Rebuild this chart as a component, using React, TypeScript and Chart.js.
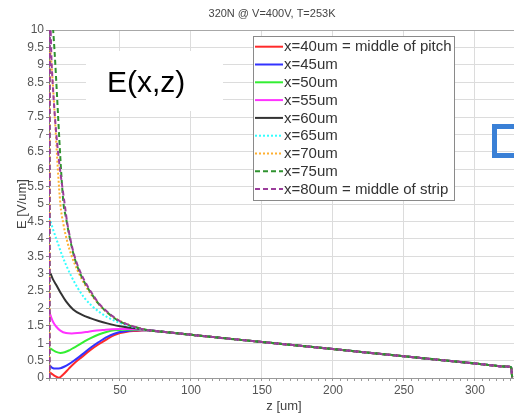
import React, { useEffect, useRef } from "react";
import { Chart, registerables } from "chart.js";

Chart.register(...registerables);

// ---- data ----
const TITLE = "320N @ V=400V, T=253K";
const X_TITLE = "z [um]";
const Y_TITLE = "E [V/um]";
const ANNOT = "E(x,z)";

// common tail shared by all curves (z >= 70 um)
const TAIL_Z = [70, 80, 100, 150, 200, 250, 300, 324, 325.5, 326.2];
const TAIL_E = [1.37, 1.33, 1.24, 1.035, 0.83, 0.625, 0.42, 0.325, 0.31, 0.02];

const LABELS = [
  "x=40um = middle of pitch",
  "x=45um",
  "x=50um",
  "x=55um",
  "x=60um",
  "x=65um",
  "x=70um",
  "x=75um",
  "x=80um = middle of strip",
];

const Z40 = [0, 2, 4, 7, 10, 14, 18, 23, 29, 35, 41, 46, 50, 55, 60, 64];
const E40 = [0.18, 0.12, 0.06, 0.01, 0.1, 0.27, 0.43, 0.6, 0.8, 0.97, 1.12, 1.23, 1.29, 1.33, 1.35, 1.36];

const Z45 = [0, 2, 5, 8, 11, 14, 17, 21, 25, 29, 35, 41, 46, 50, 55, 60, 64];
const E45 = [0.38, 0.3, 0.27, 0.28, 0.33, 0.4, 0.48, 0.6, 0.73, 0.86, 1.03, 1.18, 1.27, 1.32, 1.35, 1.37, 1.37];

const Z50 = [0, 2, 5, 8, 11, 14, 17, 21, 25, 29, 35, 41, 46, 50, 55, 60, 64];
const E50 = [0.86, 0.82, 0.75, 0.72, 0.74, 0.79, 0.86, 0.95, 1.05, 1.14, 1.25, 1.33, 1.37, 1.38, 1.39, 1.39, 1.38];

const Z55 = [0, 1.5, 3, 5, 8, 12, 16, 20, 26, 32, 38, 44, 50, 56, 62];
const E55 = [1.92, 1.75, 1.6, 1.48, 1.36, 1.29, 1.28, 1.29, 1.32, 1.36, 1.38, 1.4, 1.41, 1.41, 1.4];

const Z60 = [0, 1, 3, 5, 8, 12, 17, 23, 29, 35, 41, 46, 50, 56, 62];
const E60 = [3.05, 3.0, 2.82, 2.68, 2.46, 2.2, 1.97, 1.82, 1.72, 1.64, 1.57, 1.52, 1.49, 1.45, 1.42];

const Z65 = [0, 1, 3, 6, 9, 12, 16, 20, 25, 30, 36, 41, 46, 50, 56, 62];
const E65 = [4.6, 4.5, 4.25, 3.9, 3.55, 3.25, 2.9, 2.6, 2.3, 2.08, 1.88, 1.75, 1.65, 1.58, 1.5, 1.43];

const Z70 = [0.3, 0.5, 1.2, 8, 10, 13, 16, 20, 25, 30, 36, 41, 46, 50, 56, 62];
const E70 = [0, 9.5, 9.3, 5.0, 4.45, 3.9, 3.5, 3.1, 2.7, 2.38, 2.08, 1.88, 1.73, 1.64, 1.53, 1.45];

const Z75 = [0.3, 0.5, 3, 10, 12, 15, 18, 22, 26, 30, 35, 40, 45, 50, 56, 62];
const E75 = [0, 11, 9.95, 5.1, 4.6, 3.95, 3.45, 3.0, 2.68, 2.42, 2.13, 1.92, 1.75, 1.62, 1.52, 1.45];

const Z80 = [0.45, 0.55, 2, 12, 15, 18, 22, 26, 30, 35, 40, 45, 50, 56, 62];
const E80 = [0, 10.5, 8.9, 4.7, 4.0, 3.5, 3.05, 2.72, 2.45, 2.15, 1.94, 1.77, 1.63, 1.53, 1.45];

const SERIES_Z = [Z40, Z45, Z50, Z55, Z60, Z65, Z70, Z75, Z80];
const SERIES_E = [E40, E45, E50, E55, E60, E65, E70, E75, E80];

const COLORS = ["#ff2a2a", "#3333ff", "#33ee33", "#ff33ff", "#333333", "#33ffff", "#ffb030", "#2f922f", "#9b3d9b"];
const DASHES: number[][] = [[], [], [], [], [], [2, 2], [2, 2], [5, 3], [5, 3]];

const FONT = "'Liberation Sans', Arial, sans-serif";

function toPoints(zs: number[], es: number[]) {
  const pts = zs.map((z, i) => ({ x: z, y: es[i] }));
  return pts.concat(TAIL_Z.map((z, i) => ({ x: z, y: TAIL_E[i] })));
}

const overlayPlugin = {
  id: "overlay",
  afterDraw(chart: any) {
    const ctx = chart.ctx as CanvasRenderingContext2D;
    ctx.save();
    // title
    ctx.fillStyle = "#444";
    ctx.font = `11px ${FONT}`;
    ctx.textAlign = "center";
    ctx.textBaseline = "middle";
    ctx.fillText(TITLE, 272, 14);
    // x title
    ctx.font = `13px ${FONT}`;
    ctx.fillText(X_TITLE, 284, 406);
    // y title
    ctx.save();
    ctx.translate(22, 204);
    ctx.rotate(-Math.PI / 2);
    ctx.fillText(Y_TITLE, 0, 0);
    ctx.restore();

    // annotation box
    ctx.fillStyle = "#ffffff";
    ctx.fillRect(86, 51, 137, 60);
    ctx.fillStyle = "#000";
    ctx.font = `30px ${FONT}`;
    ctx.textAlign = "left";
    ctx.textBaseline = "alphabetic";
    ctx.fillText(ANNOT, 107, 92);

    // legend
    const lx = 253.5, ly = 36.5, lw = 201, lh = 164;
    ctx.fillStyle = "#fff";
    ctx.fillRect(lx, ly, lw, lh);
    ctx.strokeStyle = "#8a8a8a";
    ctx.lineWidth = 1;
    ctx.setLineDash([]);
    ctx.strokeRect(lx, ly, lw, lh);
    ctx.font = `15px ${FONT}`;
    ctx.textBaseline = "middle";
    for (let i = 0; i < LABELS.length; i++) {
      const y = 46.7 + i * 17.8;
      ctx.strokeStyle = COLORS[i];
      ctx.lineWidth = 2;
      ctx.setLineDash(DASHES[i]);
      ctx.beginPath();
      ctx.moveTo(255, y);
      ctx.lineTo(283, y);
      ctx.stroke();
      ctx.setLineDash([]);
      ctx.fillStyle = "#333";
      ctx.fillText(LABELS[i], 284, y + 0.5);
    }

    // blue square (partially outside)
    ctx.strokeStyle = "#3a80d6";
    ctx.lineWidth = 5;
    ctx.strokeRect(494.5, 126.5, 60, 29);
    ctx.restore();
  },
};

export default function App() {
  const ref = useRef<HTMLCanvasElement | null>(null);
  useEffect(() => {
    if (!ref.current) return;
    const order = [8, 7, 6, 5, 4, 3, 2, 1, 0];
    const datasets = order.map((i) => ({
      label: LABELS[i],
      data: toPoints(SERIES_Z[i], SERIES_E[i]),
      borderColor: COLORS[i],
      backgroundColor: COLORS[i],
      borderDash: DASHES[i],
      borderWidth: 2,
      pointRadius: 0,
      fill: false,
      cubicInterpolationMode: "monotone" as const,
    }));
    const chart = new Chart(ref.current, {
      type: "line",
      data: { datasets },
      options: {
        animation: false,
        responsive: false,
        maintainAspectRatio: false,
        layout: { padding: { top: 30, right: 0, left: 0, bottom: 0 } },
        plugins: { legend: { display: false }, tooltip: { enabled: false }, title: { display: false } },
        scales: {
          x: {
            type: "linear",
            min: 0,
            max: 327.5,
            afterFit: (s: any) => { s.height = 36; },
            ticks: {
              stepSize: 5,
              autoSkip: false,
              maxRotation: 0,
              includeBounds: false,
              color: "#555",
              font: { family: FONT, size: 12 },
              padding: 2,
              callback: (v: any) => (Number(v) > 0 && Number(v) % 50 === 0 ? String(v) : ""),
            },
            grid: {
              color: (c: any) => {
                const v = c.tick ? c.tick.value : 0;
                return v > 0 && v % 50 === 0 ? "#dcdcdc" : "rgba(0,0,0,0)";
              },
              tickColor: "#9a9a9a",
              tickLength: 3,
              lineWidth: 1,
            },
            border: { color: "#999", width: 1 },
          },
          y: {
            type: "linear",
            min: 0,
            max: 10,
            afterFit: (s: any) => { s.width = 49; },
            ticks: {
              stepSize: 0.5,
              autoSkip: false,
              color: "#555",
              font: { family: FONT, size: 12 },
              padding: 2,
              callback: (v: any) => String(Math.round(Number(v) * 10) / 10),
            },
            grid: {
              color: (c: any) => (c.tick && c.tick.value === 10 ? "#a8a8a8" : "#dcdcdc"),
              tickColor: "#888",
              tickLength: 3,
              lineWidth: 1,
            },
            border: { color: "#777", width: 1 },
          },
        },
      },
      plugins: [overlayPlugin],
    });
    return () => chart.destroy();
  }, []);
  return (
    <div style={{ position: "absolute", left: 0, top: 0, width: 514, height: 414, background: "#fff" }}>
      <canvas ref={ref} width={514} height={414} style={{ display: "block" }} />
    </div>
  );
}
